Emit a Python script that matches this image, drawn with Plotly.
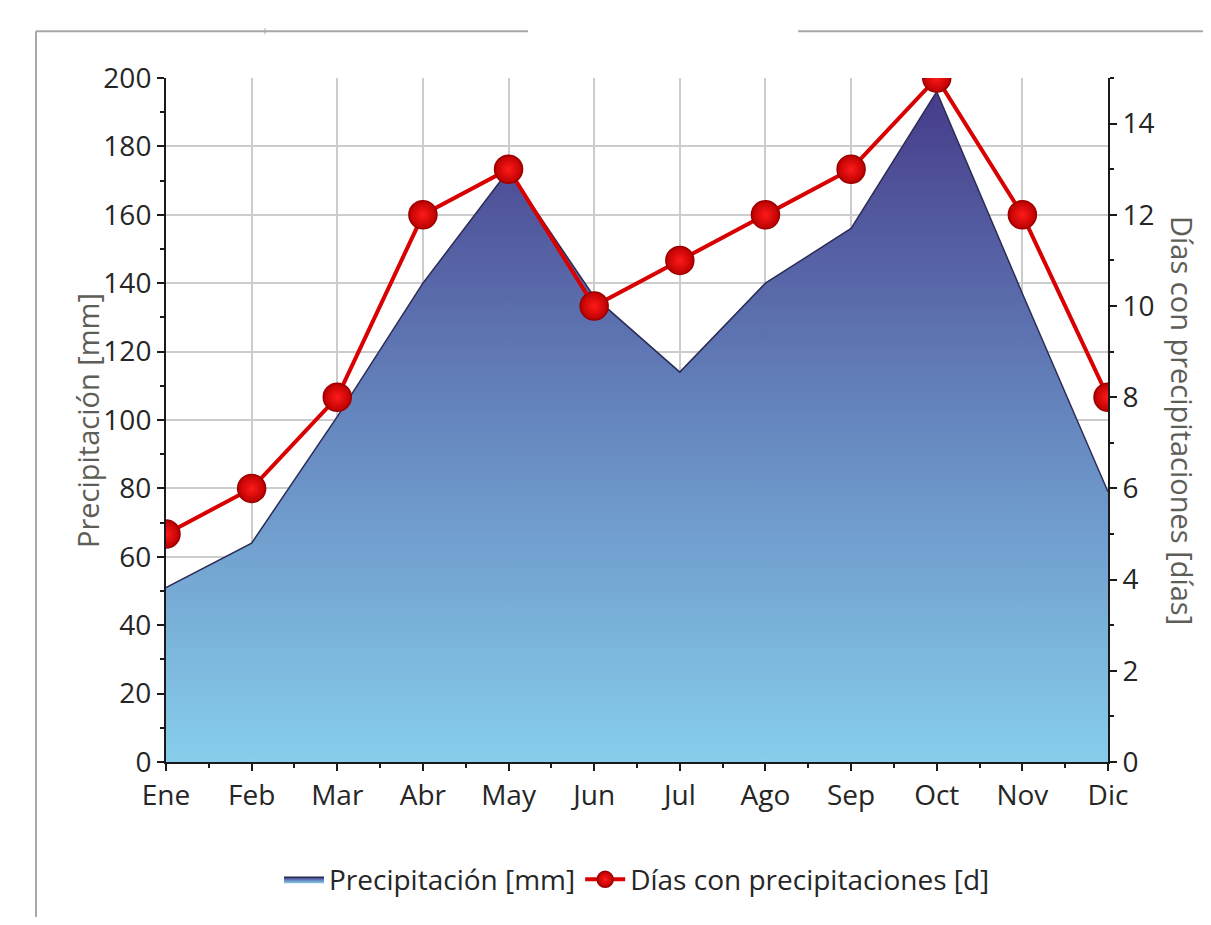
import plotly.graph_objects as go

months = ["Ene", "Feb", "Mar", "Abr", "May", "Jun", "Jul", "Ago", "Sep", "Oct", "Nov", "Dic"]
precip_mm = [51, 64, 101, 140, 173, 136, 114, 140, 156, 196, 137, 79]
rain_days = [5, 6, 8, 12, 13, 10, 11, 12, 13, 15, 12, 8]
left_ticks = list(range(0, 201, 20))
right_ticks = list(range(0, 15, 2))

# page offset of the plotly div (browser body margin)
OFF = 8
W, H = 1211 - 2 * OFF, 925 - 2 * OFF
L, R, T, B = 166, 1108, 78, 764  # plot area in page pixels

def px(x):
    return (x - L) / (R - L)

def py(y):
    return (B - y) / (B - T)

xs = list(range(len(months)))
FONT = "Open Sans"
TICK_COLOR = "#262626"
TITLE_COLOR = "#5e5e58"
TS = 28

fig = go.Figure()
fig.add_trace(go.Scatter(
    x=xs, y=precip_mm, name="Precipitación [mm]",
    mode="lines", fill="tozeroy",
    line=dict(color="#2b2b55", width=1.5),
    fillgradient=dict(type="vertical",
                      colorscale=[[0, "#87ceeb"], [0.5, "#6688c0"], [1, "#463c8a"]]),
    yaxis="y",
))
fig.add_trace(go.Scatter(
    x=xs, y=rain_days, name="Días con precipitaciones [d]",
    mode="lines+markers",
    line=dict(color="#d80000", width=4),
    marker=dict(size=28, color="#bb0000",
                gradient=dict(type="radial", color="#ff1a1a"),
                line=dict(color="#9a0000", width=1.5)),
    yaxis="y2",
))

axis_common = dict(
    showline=True, linecolor="#1a1a1a", linewidth=2,
    ticks="outside", ticklen=7, tickwidth=2, tickcolor="#1a1a1a",
    tickfont=dict(family=FONT, size=TS, color=TICK_COLOR),
    zeroline=False,
)

fig.update_layout(
    width=W, height=H,
    margin=dict(l=L - OFF, r=W - (R - OFF), t=T - OFF, b=H - (B - OFF)),
    paper_bgcolor="white", plot_bgcolor="white",
    font=dict(family=FONT),
    xaxis=dict(
        **axis_common,
        range=[0, 11], tickvals=xs, ticktext=months,
        showgrid=True, gridcolor="#cccccc", gridwidth=2,
        minor=dict(dtick=0.5, tick0=0, ticks="outside", ticklen=4, tickwidth=2,
                   tickcolor="#1a1a1a", showgrid=False),
        ticklabelstandoff=0,
    ),
    yaxis=dict(
        **axis_common,
        range=[0, 200], tickvals=left_ticks,
        showgrid=True, gridcolor="#cccccc", gridwidth=2,
        minor=dict(dtick=10, ticks="outside", ticklen=4, tickwidth=2,
                   tickcolor="#1a1a1a", showgrid=False),
        ticklabelstandoff=0,
    ),
    yaxis2=dict(
        **axis_common,
        overlaying="y", side="right",
        range=[0, 15], tickvals=right_ticks,
        showgrid=False,
        minor=dict(dtick=1, ticks="outside", ticklen=4, tickwidth=2,
                   tickcolor="#1a1a1a", showgrid=False),
        ticklabelstandoff=0,
    ),
    showlegend=True,
    legend=dict(orientation="h", x=0.5, xanchor="center", y=py(882), yanchor="middle",
                font=dict(family=FONT, size=TS, color=TICK_COLOR),
                itemwidth=40, tracegroupgap=0),
    annotations=[
        dict(text="Precipitación [mm]", xref="paper", yref="paper",
             x=px(88), y=py(422), xanchor="center", yanchor="middle",
             showarrow=False, textangle=-90,
             font=dict(family=FONT, size=29, color=TITLE_COLOR)),
        dict(text="Días con precipitaciones [días]", xref="paper", yref="paper",
             x=px(1183), y=py(421), xanchor="center", yanchor="middle",
             showarrow=False, textangle=90,
             font=dict(family=FONT, size=29, color=TITLE_COLOR)),
    ],
    shapes=[
        dict(type="line", xref="paper", yref="paper", x0=px(36), x1=px(528),
             y0=py(31), y1=py(31), line=dict(color="#a8a8a8", width=2)),
        dict(type="line", xref="paper", yref="paper", x0=px(798), x1=px(1211),
             y0=py(31), y1=py(31), line=dict(color="#a8a8a8", width=2)),
        dict(type="line", xref="paper", yref="paper", x0=px(265), x1=px(265),
             y0=py(28), y1=py(34), line=dict(color="#a8a8a8", width=1)),
        dict(type="line", xref="paper", yref="paper", x0=px(36), x1=px(36),
             y0=py(31), y1=py(925), line=dict(color="#a8a8a8", width=2)),
    ],
)

fig.write_html("out.html")
